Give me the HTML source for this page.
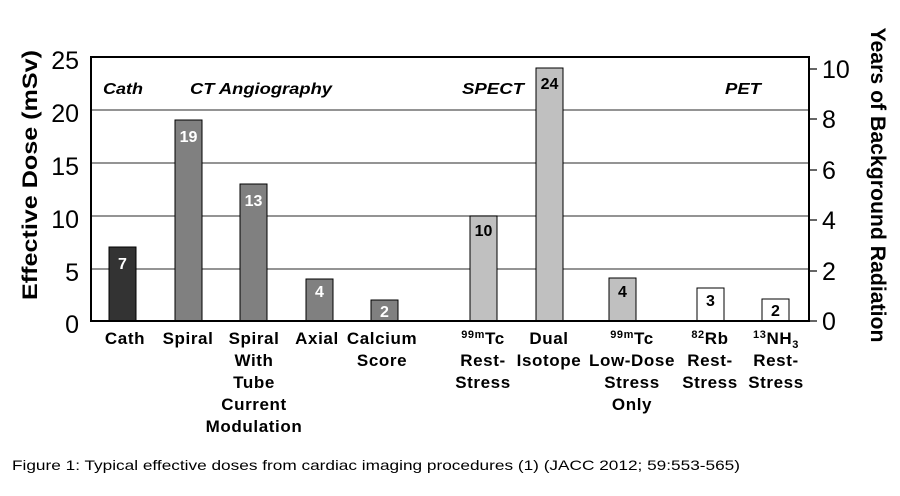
<!DOCTYPE html><html><head><style>body{margin:0;background:#fff}</style></head><body>
<svg width="900" height="491" xmlns="http://www.w3.org/2000/svg" font-family="Liberation Sans, Arial, sans-serif">
<rect width="900" height="491" fill="#fff"/>
<g stroke="#555" stroke-width="1.2">
<line x1="91" y1="110" x2="809" y2="110"/><line x1="91" y1="163" x2="809" y2="163"/>
<line x1="91" y1="216" x2="809" y2="216"/><line x1="91" y1="269" x2="809" y2="269"/>
</g>
<g stroke="#000" stroke-width="1">
<rect x="109" y="247" width="27" height="74" fill="#333"/>
<rect x="175" y="120" width="27" height="201" fill="#808080"/>
<rect x="240" y="184" width="27" height="137" fill="#808080"/>
<rect x="306" y="279" width="27" height="42" fill="#808080"/>
<rect x="371" y="300" width="27" height="21" fill="#808080"/>
<rect x="470" y="216" width="27" height="105" fill="#c0c0c0"/>
<rect x="536" y="68" width="27" height="253" fill="#c0c0c0"/>
<rect x="609" y="278" width="27" height="43" fill="#c0c0c0"/>
<rect x="697" y="288" width="27" height="33" fill="#fff"/>
<rect x="762" y="299" width="27" height="22" fill="#fff"/>
</g>
<rect x="91" y="57" width="718" height="264" fill="none" stroke="#000" stroke-width="2"/>
<g font-weight="bold" font-size="16" text-anchor="middle">
<text x="122.5" y="269" fill="#fff">7</text><text x="188.5" y="142" fill="#fff">19</text>
<text x="253.5" y="206" fill="#fff">13</text><text x="319.5" y="297" fill="#fff">4</text>
<text x="384.5" y="317" fill="#fff">2</text><text x="483.5" y="236" fill="#000">10</text>
<text x="549.5" y="89" fill="#000">24</text><text x="622.5" y="297" fill="#000">4</text>
<text x="710.5" y="306" fill="#000">3</text><text x="775.5" y="316" fill="#000">2</text>
</g>
<g font-style="italic" font-weight="bold" font-size="16" lengthAdjust="spacingAndGlyphs">
<text x="103" y="94" textLength="40" lengthAdjust="spacingAndGlyphs">Cath</text><text x="190" y="94" textLength="142" lengthAdjust="spacingAndGlyphs">CT Angiography</text>
<text x="462" y="94" textLength="62" lengthAdjust="spacingAndGlyphs">SPECT</text><text x="725" y="94" textLength="36" lengthAdjust="spacingAndGlyphs">PET</text>
</g>
<g font-size="25" text-anchor="end">
<text x="79" y="69">25</text><text x="79" y="122">20</text><text x="79" y="175">15</text>
<text x="79" y="228">10</text><text x="79" y="281">5</text><text x="79" y="333">0</text>
</g>
<g stroke="#000" stroke-width="1.2">
<line x1="809" y1="69" x2="817" y2="69"/><line x1="809" y1="119" x2="817" y2="119"/>
<line x1="809" y1="170" x2="817" y2="170"/><line x1="809" y1="220" x2="817" y2="220"/>
<line x1="809" y1="271" x2="817" y2="271"/><line x1="809" y1="321" x2="817" y2="321"/>
</g>
<g font-size="25">
<text x="822" y="78">10</text><text x="822" y="128">8</text><text x="822" y="179">6</text>
<text x="822" y="229">4</text><text x="822" y="280">2</text><text x="822" y="330">0</text>
</g>
<text transform="translate(37,175) rotate(-90)" font-weight="bold" font-size="21" text-anchor="middle" textLength="250" lengthAdjust="spacingAndGlyphs">Effective Dose (mSv)</text>
<text transform="translate(871,185) rotate(90)" font-weight="bold" font-size="21" text-anchor="middle" textLength="315" lengthAdjust="spacingAndGlyphs">Years of Background Radiation</text>
<g font-weight="bold" font-size="17" text-anchor="middle" letter-spacing="0.6">
<text x="125" y="344">Cath</text><text x="188" y="344">Spiral</text>
<text x="254" y="344">Spiral</text><text x="254" y="366">With</text><text x="254" y="388">Tube</text><text x="254" y="410">Current</text><text x="254" y="432">Modulation</text>
<text x="317" y="344">Axial</text>
<text x="382" y="344">Calcium</text><text x="382" y="366">Score</text>
<text x="483" y="344"><tspan font-size="11" dy="-6">99m</tspan><tspan dy="6">Tc</tspan></text><text x="483" y="366">Rest-</text><text x="483" y="388">Stress</text>
<text x="549" y="344">Dual</text><text x="549" y="366">Isotope</text>
<text x="632" y="344"><tspan font-size="11" dy="-6">99m</tspan><tspan dy="6">Tc</tspan></text><text x="632" y="366">Low-Dose</text><text x="632" y="388">Stress</text><text x="632" y="410">Only</text>
<text x="710" y="344"><tspan font-size="11" dy="-6">82</tspan><tspan dy="6">Rb</tspan></text><text x="710" y="366">Rest-</text><text x="710" y="388">Stress</text>
<text x="776" y="344"><tspan font-size="11" dy="-6">13</tspan><tspan dy="6">NH</tspan><tspan font-size="11" dy="4">3</tspan></text><text x="776" y="366">Rest-</text><text x="776" y="388">Stress</text>
</g>
<text x="12" y="470" font-size="14" textLength="728" lengthAdjust="spacingAndGlyphs">Figure 1: Typical effective doses from cardiac imaging procedures (1) (JACC 2012; 59:553-565)</text>
</svg>
</body></html>
